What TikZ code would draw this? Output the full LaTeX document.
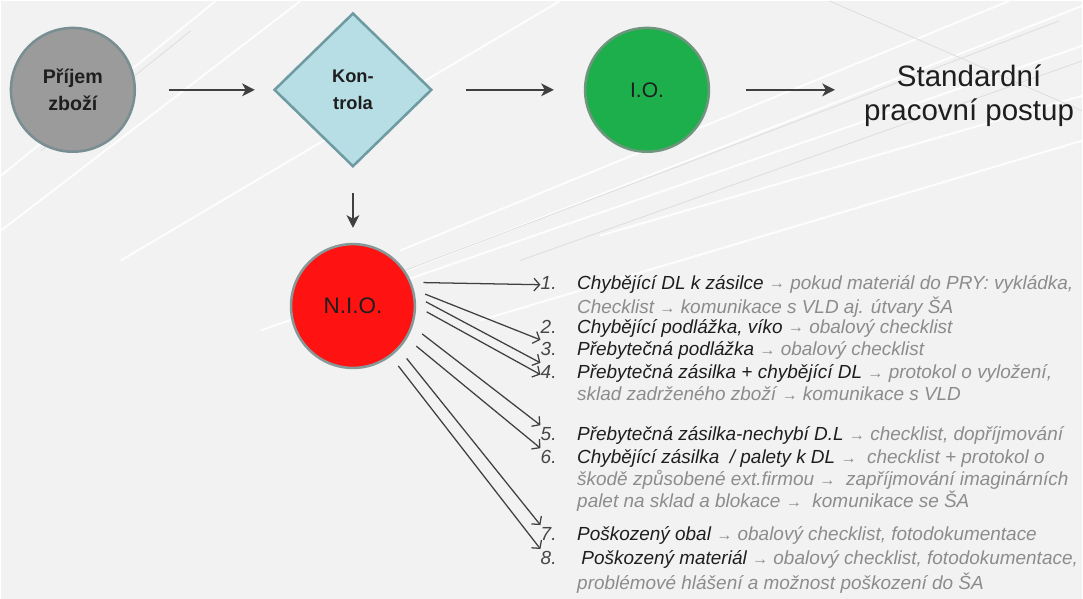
\documentclass[tikz,border=0pt]{standalone}
\usepackage{fontspec}
\setmainfont{Liberation Sans}
\usepackage{xcolor}
\usetikzlibrary{shapes.geometric, arrows.meta, positioning}

\definecolor{bgcol}{RGB}{242,242,242}
\definecolor{streakcol}{RGB}{222,222,222}
\definecolor{txtcol}{RGB}{30,30,30}
\definecolor{numcol}{RGB}{70,70,70}
\definecolor{detcol}{RGB}{140,140,140}
\definecolor{arrcol}{RGB}{64,64,64}
\definecolor{greyfill}{RGB}{155,155,155}
\definecolor{greyline}{RGB}{120,142,146}
\definecolor{bluefill}{RGB}{183,222,229}
\definecolor{blueline}{RGB}{110,155,162}
\definecolor{greenfill}{RGB}{28,175,75}
\definecolor{greenline}{RGB}{110,150,125}
\definecolor{redfill}{RGB}{255,18,18}
\definecolor{redline}{RGB}{135,152,152}

\newcommand{\dettxt}[1]{{\color{detcol}\itshape #1}}
\newcommand{\tiparr}{{\fontsize{11.5}{11.5}\selectfont\raisebox{0.4pt}{→}}}

\begin{document}
\begin{tikzpicture}[x=0.025cm, y=-0.025cm, text=txtcol]
    \tikzstyle{station}=[circle, draw, line width=1.8pt, minimum size=3.1cm, inner sep=0pt, align=center]
    \tikzstyle{decision}=[diamond, draw=blueline, fill=bluefill, line width=1.8pt, minimum width=3.95cm, minimum height=3.85cm, inner sep=0pt, align=center]
    \tikzstyle{flow}=[arrcol, line width=1.8pt, -{Stealth[length=9pt, width=9pt, inset=2.5pt]}]
    \tikzstyle{branch}=[arrcol, line width=0.9pt, -{Straight Barb[length=4pt, width=9pt]}, shorten <=0.3cm]
    \tikzstyle{num}=[inner sep=0pt, text width=0.9cm, align=left, text=numcol, font=\fontsize{13.5}{15.6}\selectfont\itshape]
    \tikzstyle{entry}=[inner sep=0pt, align=left, font=\fontsize{13.5}{15.6}\selectfont\itshape]

    % background with light streaks
    \fill[bgcol] (0,0) rectangle (1083,599);
    \foreach \xa/\ya/\xb/\yb in {0/175/215/0, 0/230/300/0, 120/260/560/0, 260/330/1083/45, 330/300/1083/5, 400/250/1010/0, 600/235/1083/95, 480/320/1083/140}
        \draw[white, line width=1.4pt, opacity=0.9] (\xa,\ya) -- (\xb,\yb);
    \foreach \xa/\ya/\xb/\yb in {40/150/190/30, 300/310/1060/20, 520/260/1083/60, 830/0/1083/110}
        \draw[streakcol, line width=0.6pt] (\xa,\ya) -- (\xb,\yb);
    \useasboundingbox (0,0) rectangle (1083,599);

    % main flow
    \node[station, fill=greyfill, draw=greyline, font=\fontsize{14}{19}\selectfont\bfseries] (prijem) at (72,89) {Příjem\\zboží};
    \node[decision, right=3.425cm of prijem, font=\fontsize{13}{19}\selectfont\bfseries] (kontrola) {Kon-\\trola};
    \node[station, fill=greenfill, draw=greenline, right=3.775cm of kontrola, font=\fontsize{15}{18}\selectfont] (io) {I.O.};
    \node[right=3.85cm of io, yshift=-0.15cm, inner sep=0pt, align=center, font=\fontsize{21}{24}\selectfont] (std) {Standardní\\pracovní postup};
    \node[station, fill=redfill, draw=redline, below=1.875cm of kontrola, font=\fontsize{16}{18}\selectfont] (nio) {N.I.O.};

    \draw[flow, shorten <=0.825cm, shorten >=0.45cm] (prijem) -- (kontrola);
    \draw[flow, shorten <=0.825cm, shorten >=0.75cm] (kontrola) -- (io);
    \draw[flow, shorten <=0.9cm, shorten >=0.725cm] (io) -- (io -| std.west);
    \draw[flow, shorten <=0.625cm, shorten >=0.375cm] (kontrola) -- (nio);

    % list of cases
    \node[entry, anchor=north west] (t1) at (577,273) {\strut\itshape Chybějící DL k zásilce \dettxt{\tiparr{} pokud materiál do PRY: vykládka,}\\\dettxt{Checklist \tiparr{} komunikace s VLD aj. útvary ŠA}};
    \node[num, anchor=north east] (n1) at (t1.north west) {\strut 1.};
    \node[entry, anchor=north west] (t2) at (577,317) {\strut\itshape Chybějící podlážka, víko \dettxt{\tiparr{} obalový checklist}};
    \node[num, anchor=north east] (n2) at (t2.north west) {\strut 2.};
    \node[entry, anchor=north west] (t3) at (577,340) {\strut\itshape Přebytečná podlážka \dettxt{\tiparr{} obalový checklist}};
    \node[num, anchor=north east] (n3) at (t3.north west) {\strut 3.};
    \node[entry, anchor=north west] (t4) at (577,363) {\strut\itshape Přebytečná zásilka + chybějící DL \dettxt{\tiparr{} protokol o vyložení,}\\\dettxt{sklad zadrženého zboží \tiparr{} komunikace s VLD}};
    \node[num, anchor=north east] (n4) at (t4.north west) {\strut 4.};
    \node[entry, anchor=north west] (t5) at (577,425) {\strut\itshape Přebytečná zásilka-nechybí D.L \dettxt{\tiparr{} checklist, dopříjmování}};
    \node[num, anchor=north east] (n5) at (t5.north west) {\strut 5.};
    \node[entry, anchor=north west] (t6) at (577,448) {\strut\itshape Chybějící zásilka \ / palety k DL \dettxt{\tiparr{} \ checklist + protokol o}\\\dettxt{škodě způsobené ext.firmou \tiparr{} \ zapříjmování imaginárních}\\\dettxt{palet na sklad a blokace \tiparr{} \ komunikace se ŠA}};
    \node[num, anchor=north east] (n6) at (t6.north west) {\strut 6.};
    \node[entry, anchor=north west] (t7) at (577,525) {\strut\itshape Poškozený obal \dettxt{\tiparr{} obalový checklist, fotodokumentace}};
    \node[num, anchor=north east] (n7) at (t7.north west) {\strut 7.};
    \node[entry, anchor=north west] (t8) at (577,549) {\strut\itshape\hspace{3pt}Poškozený materiál \dettxt{\tiparr{} obalový checklist, fotodokumentace,}\\\dettxt{problémové hlášení a možnost poškození do ŠA}};
    \node[num, anchor=north east] (n8) at (t8.north west) {\strut 8.};

    \draw[branch] (nio.22) -- (n1.west);
    \draw[branch] (nio.15) -- (n2.south west);
    \draw[branch] (nio.9) -- (n3.south west);
    \draw[branch] (nio.0) -- (n4.west);
    \draw[branch] (nio.-19) -- (n5.north west);
    \draw[branch] (nio.-31) -- (n6.north west);
    \draw[branch] (nio.-43) -- (n7.north west);
    \draw[branch] (nio.-53) -- (n8.north west);
\end{tikzpicture}
\end{document}
